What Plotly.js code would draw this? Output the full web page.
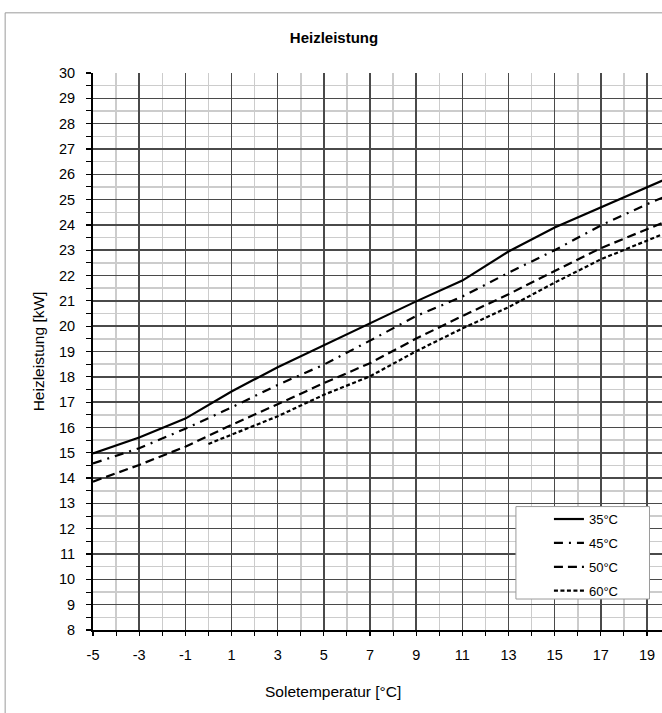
<!DOCTYPE html>
<html>
<head>
<meta charset="utf-8">
<script src="https://cdn.plot.ly/plotly-3.0.1.min.js"></script>
<style>
html,body{margin:0;padding:0;background:#fff;overflow:hidden;}
#chart{width:662px;height:713px;}
</style>
</head>
<body>
<div id="chart"></div>
<script>
// Soletemperatur [°C]
const solT = [-5, -3, -1, 1, 3, 5, 7, 9, 11, 13, 15, 17, 19, 20];
const solT60 = [0, 1, 3, 5, 7, 9, 11, 13, 15, 17, 19, 20];
// Heizleistung [kW]
const hl35 = [14.97, 15.6, 16.35, 17.42, 18.38, 19.25, 20.13, 20.98, 21.8, 22.95, 23.9, 24.69, 25.48, 25.88];
const hl45 = [14.58, 15.18, 15.95, 16.79, 17.68, 18.48, 19.43, 20.4, 21.17, 22.11, 23.0, 23.98, 24.82, 25.2];
const hl50 = [13.86, 14.52, 15.24, 16.1, 16.92, 17.75, 18.54, 19.51, 20.4, 21.26, 22.18, 23.08, 23.83, 24.2];
const hl60 = [15.35, 15.71, 16.44, 17.29, 18.02, 19.01, 19.91, 20.75, 21.72, 22.64, 23.37, 23.75];
const seriesNames = ['35°C', '45°C', '50°C', '60°C'];
// x tick labels (written with a plain hyphen as in the original)
const xTickVals = [-5, -3, -1, 1, 3, 5, 7, 9, 11, 13, 15, 17, 19];
const xTickText = ['-5', '-3', '-1', '1', '3', '5', '7', '9', '11', '13', '15', '17', '19'];

const W = 662, H = 713;
const L = 93.3, R = 0, T = 72.7, B = 83;
const pw = W - L - R, ph = H - T - B;
const px2x = p => (p - L) / pw;
const px2y = p => (H - B - p) / ph;

const FONT = '"Liberation Sans", Arial, Helvetica, sans-serif';
const tickFont = {family: FONT, size: 14.5, color: '#000'};

function tr(x, y, name, dash, grp) {
  return {
    x: x, y: y, name: name, type: 'scatter', mode: 'lines',
    legendgroup: grp,
    line: {color: '#000', width: 2.2, dash: dash}
  };
}

const data = [
  tr(solT, hl35, seriesNames[0], 'solid', 'g1'),
  tr(solT, hl45, seriesNames[1], '9px,6px,2px,6px', 'g2'),
  tr(solT, hl50, seriesNames[2], '9px,5px', 'g3'),
  tr(solT60, hl60, seriesNames[3], '4px,2.5px', 'g4')
];

const layout = {
  width: W, height: H,
  margin: {l: L, r: R, t: T, b: B, pad: 0},
  paper_bgcolor: '#fff', plot_bgcolor: '#fff',
  showlegend: true,
  title: {
    text: '<b>Heizleistung</b>',
    x: 334 / W, xanchor: 'center', xref: 'container',
    y: 1 - 38 / H, yanchor: 'middle', yref: 'container',
    font: {family: FONT, size: 15, color: '#000'}
  },
  xaxis: {
    range: [-5, 19.65], tickmode: 'array', tickvals: xTickVals, ticktext: xTickText,
    showgrid: true, gridcolor: '#4a4a4a', gridwidth: 1.5,
    zeroline: false, showline: true, linecolor: '#000', linewidth: 2,
    ticks: 'outside', ticklen: 4, tickwidth: 1.2, tickcolor: '#000',
    ticklabelstandoff: 7,
    tickfont: tickFont,
    minor: {tickmode: 'linear', dtick: 1, tick0: -5, showgrid: true, gridcolor: '#cccccc', gridwidth: 1.5,
            ticks: 'outside', ticklen: 4, tickcolor: '#000', tickwidth: 1},
    title: {text: ''}
  },
  yaxis: {
    range: [8, 30], tickmode: 'linear', tick0: 8, dtick: 1,
    showgrid: true, gridcolor: '#4a4a4a', gridwidth: 1.5,
    zeroline: false, showline: true, linecolor: '#000', linewidth: 2,
    ticks: 'outside', ticklen: 5, tickwidth: 1.2, tickcolor: '#000',
    ticklabelstandoff: 8,
    tickfont: tickFont,
    minor: {dtick: 0.5, tick0: 8, showgrid: true, gridcolor: '#cccccc', gridwidth: 1.5,
            ticks: 'outside', ticklen: 5, tickcolor: '#000', tickwidth: 1},
    title: {text: 'Heizleistung [kW]', standoff: 11,
            font: {family: FONT, size: 15.5, color: '#000'}},
    automargin: false
  },
  legend: {
    x: px2x(549), xanchor: 'left', xref: 'paper',
    y: px2y(504), yanchor: 'top', yref: 'paper',
    bgcolor: 'rgba(0,0,0,0)', borderwidth: 0,
    traceorder: 'grouped', tracegroupgap: 4,
    font: {family: FONT, size: 13, color: '#000'}
  },
  annotations: [{
    text: 'Soletemperatur [°C]', xref: 'paper', yref: 'paper',
    x: px2x(333), y: px2y(692), xanchor: 'center', yanchor: 'middle', showarrow: false,
    font: {family: FONT, size: 15.5, color: '#000'}
  }],
  shapes: [
    {type: 'rect', xref: 'paper', yref: 'paper', layer: 'above',
     x0: px2x(516), x1: px2x(649.5), y0: px2y(599), y1: px2y(506.5),
     line: {color: '#9a9a9a', width: 1}, fillcolor: '#fff'},
    {type: 'rect', xref: 'paper', yref: 'paper', layer: 'below',
     x0: px2x(5.5), x1: px2x(720), y0: px2y(760), y1: px2y(12.5),
     line: {color: '#9a9a9a', width: 1}, fillcolor: 'rgba(0,0,0,0)'}
  ]
};

Plotly.newPlot('chart', data, layout, {staticPlot: true, displayModeBar: false});
</script>
</body>
</html>
